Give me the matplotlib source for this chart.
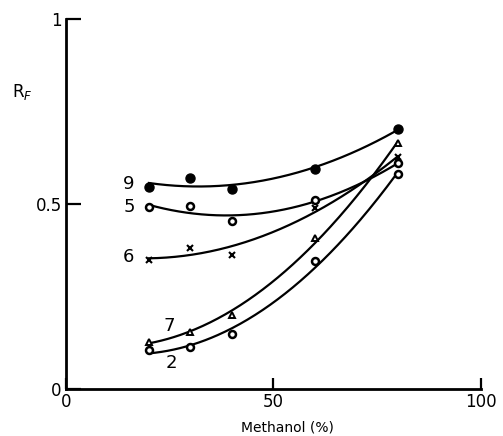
import numpy as np
import matplotlib
matplotlib.use("Agg")
import matplotlib.pyplot as plt

methanol = [20, 30, 40, 60, 80]
s9 = [0.546, 0.571, 0.541, 0.596, 0.703]
s5 = [0.491, 0.495, 0.453, 0.511, 0.610]
s6 = [0.349, 0.382, 0.362, 0.490, 0.626]
s7 = [0.128, 0.155, 0.200, 0.407, 0.665]
s2 = [0.104, 0.114, 0.148, 0.346, 0.580]

fig = plt.figure(figsize=(5.03, 4.36), dpi=100)
ax = fig.add_axes([0.131, 0.108, 0.825, 0.848])
ax.set_xlim(0, 100)
ax.set_ylim(0, 1)

xs = np.linspace(20, 80, 200)
series = [
    (s9, dict(marker='o', mfc='black', mec='black', ms=6.5)),
    (s5, dict(marker='o', mfc='white', mec='black', ms=5, mew=1.8)),
    (s6, dict(marker='x', color='black', ms=5, mew=1.5)),
    (s7, dict(marker='^', mfc='white', mec='black', ms=5, mew=1.4)),
    (s2, dict(marker='o', mfc='white', mec='black', ms=5, mew=1.8)),
]
for ys, st in series:
    c = np.polyfit(methanol, ys, 2)
    ax.plot(xs, np.polyval(c, xs), color='black', lw=1.6, zorder=2)
    ax.plot(methanol, ys, linestyle='none', zorder=3, **st)

labels = [("9", 15.2, 0.555), ("5", 15.2, 0.492), ("6", 15.0, 0.357), ("7", 25, 0.17), ("2", 25.5, 0.07)]
for t, x, y in labels:
    ax.text(x, y, t, fontsize=13, ha='center', va='center')

for s in ['top', 'right']:
    ax.spines[s].set_visible(False)
for s in ['left', 'bottom']:
    ax.spines[s].set_linewidth(2)

ax.set_xticks([0, 50, 100])
ax.set_xticklabels(['0', '50', '100'])
ax.set_yticks([0, 0.5, 1])
ax.set_yticklabels(['0', '0.5', '1'])
ax.tick_params(axis='y', direction='in', length=11, width=1.6, labelsize=12, pad=3)
ax.tick_params(axis='x', direction='in', length=8, width=1.6, labelsize=12, pad=3)

ax.set_xlabel('Methanol (%)', fontsize=10)
ax.xaxis.set_label_coords(0.535, -0.085)
fig.text(0.045, 0.79, 'R$_F$', fontsize=12, ha='center', va='center')

fig.savefig('out.png', dpi=100)
